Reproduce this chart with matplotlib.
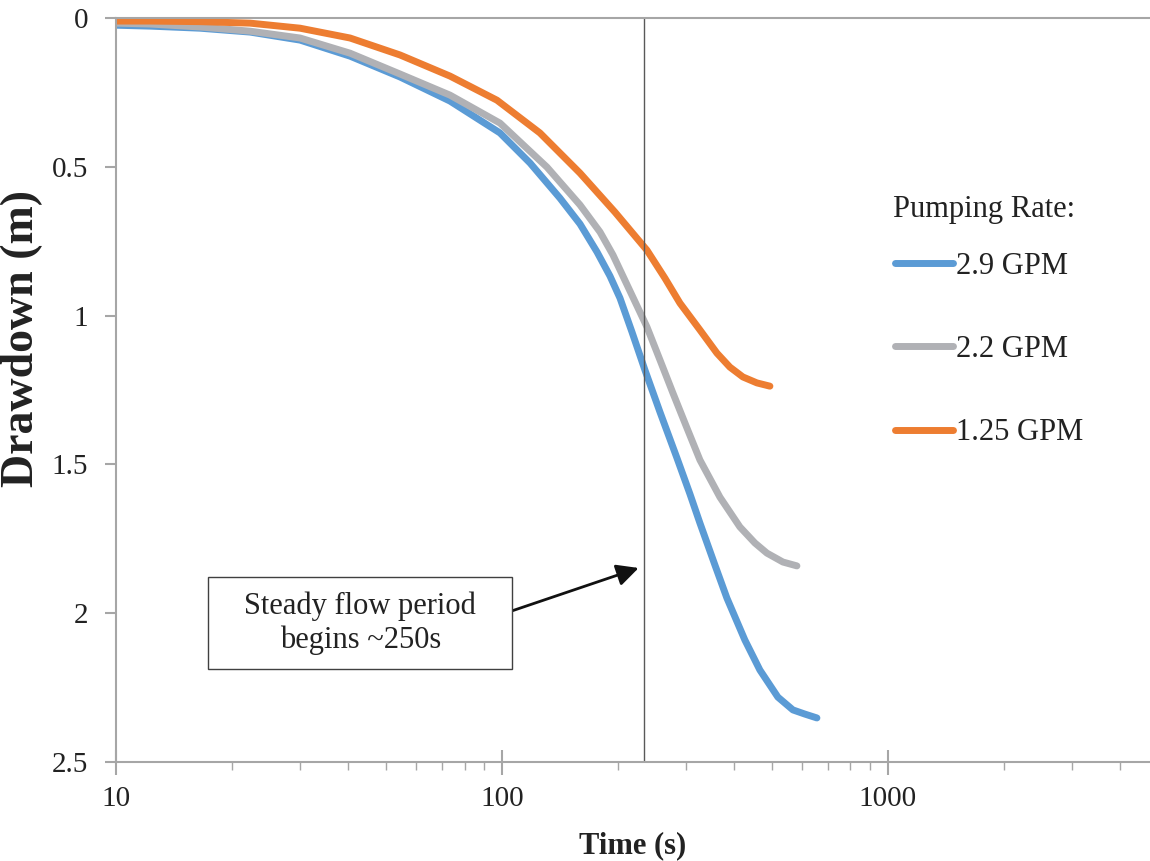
import matplotlib
matplotlib.use('Agg')
import matplotlib.pyplot as plt
from matplotlib.path import Path
from matplotlib.ticker import FixedLocator, LogLocator, NullFormatter

# data (time in s, drawdown in m)
t_29 = [10, 12.25, 16.5, 22.24, 29.97, 40.39, 54.42, 73.34, 98.81, 118.2, 141.3,
        159.3, 176.3, 190.5, 202.2, 217.2, 234.7, 256.7, 284.0, 306.9, 325.8,
        356.3, 382.7, 426.0, 466.0, 518.8, 567.5, 609.5, 654.9]
d_29 = [0.024, 0.027, 0.034, 0.047, 0.074, 0.128, 0.198, 0.279, 0.386, 0.487,
        0.605, 0.692, 0.786, 0.867, 0.941, 1.055, 1.183, 1.324, 1.478, 1.599,
        1.697, 1.838, 1.949, 2.090, 2.191, 2.282, 2.325, 2.339, 2.352]

t_22 = [10, 12.25, 16.5, 22.24, 29.97, 40.39, 54.42, 73.34, 98.81, 130.8, 159.3,
        179.5, 193.9, 214.6, 237.5, 256.7, 277.3, 301.6, 325.8, 367.1, 413.5,
        452.3, 485.9, 534.6, 581.2]
d_22 = [0.017, 0.020, 0.030, 0.044, 0.067, 0.118, 0.188, 0.259, 0.353, 0.501,
        0.628, 0.719, 0.796, 0.917, 1.038, 1.149, 1.260, 1.378, 1.485, 1.610,
        1.710, 1.764, 1.798, 1.828, 1.841]

t_125 = [10, 12.25, 16.5, 22.24, 29.97, 40.39, 54.42, 73.34, 97.05, 125.4, 159.3,
         196.2, 237.5, 264.4, 289.2, 325.8, 360.6, 389.6, 421.0, 457.7, 494.7]
d_125 = [0.010, 0.010, 0.012, 0.017, 0.034, 0.067, 0.124, 0.195, 0.276, 0.386,
         0.521, 0.652, 0.780, 0.874, 0.958, 1.048, 1.126, 1.173, 1.206, 1.226,
         1.237]

labels = ['2.9 GPM', '2.2 GPM', '1.25 GPM']
colors = ['#5B9BD5', '#B0B1B5', '#ED7D31']
steady_t = 234
y_ticks = [0, 0.5, 1, 1.5, 2, 2.5]
y_ticklabels = ['0', '0.5', '1', '1.5', '2', '2.5']

plt.rcParams['font.family'] = ['Liberation Serif', 'DejaVu Serif']
TXT = '#222222'
AXC = '#A6A6A6'


def wide_box(x0, y0, width, height, mutation_size):
    # rectangle with more padding left/right than top/bottom
    px, py = 1.18 * mutation_size, 0.47 * mutation_size
    return Path([(x0 - px, y0 - py), (x0 + width + px, y0 - py),
                 (x0 + width + px, y0 + height + py), (x0 - px, y0 + height + py),
                 (x0 - px, y0 - py)], closed=True)


fig = plt.figure(figsize=(11.5, 8.61), dpi=100)
ax = fig.add_axes([0.101, 0.115, 0.899, 0.864])

for t, d, lab, c in zip([t_29, t_22, t_125], [d_29, d_22, d_125], labels, colors):
    ax.plot(t, d, color=c, lw=5, label=lab, solid_capstyle='round',
            solid_joinstyle='round')

ax.axvline(steady_t, color='#595959', lw=1)

ax.set_xscale('log')
ax.set_xlim(10, 4780)
ax.set_ylim(2.5, 0)

ax.xaxis.set_major_locator(FixedLocator([10, 100, 1000]))
ax.set_xticklabels(['10', '100', '1000'])
ax.xaxis.set_minor_locator(LogLocator(base=10, subs=range(2, 10)))
ax.xaxis.set_minor_formatter(NullFormatter())
ax.set_yticks(y_ticks)
ax.set_yticklabels(y_ticklabels)

for side in ['left', 'top', 'bottom']:
    ax.spines[side].set_color(AXC)
    ax.spines[side].set_linewidth(1.5)
ax.spines['right'].set_visible(False)

ax.tick_params(axis='x', which='major', direction='inout', length=18, width=1.5,
               color=AXC, labelcolor=TXT, labelsize=21, pad=8)
ax.tick_params(axis='x', which='minor', direction='out', length=6, width=1,
               color=AXC)
ax.tick_params(axis='y', direction='out', length=8, width=1.5, color=AXC,
               labelcolor=TXT, labelsize=21, pad=12)

ax.set_xlabel('Time (s)', fontsize=22, fontweight='bold', color=TXT, labelpad=14)
ax.set_ylabel('Drawdown (m)', fontsize=33, fontweight='bold', color=TXT)
ax.yaxis.set_label_coords(-0.091, 0.569)
ax.yaxis.label.set_verticalalignment('center')

ax.annotate('Steady flow period\nbegins ~250s', xy=(226, 1.848), xytext=(42.9, 2.033),
            ha='center', va='center', fontsize=22, color=TXT,
            bbox=dict(boxstyle=wide_box, fc='white', ec='#404040', lw=1),
            arrowprops=dict(arrowstyle='-|>,head_length=0.6,head_width=0.3',
                            color='#111111', lw=2, shrinkA=0, shrinkB=0,
                            relpos=(1.0, 0.5)))

fig.text(893 / 1150, 1 - 210 / 861, 'Pumping Rate:', fontsize=22, color=TXT,
         ha='left', va='center')
leg = ax.legend(loc='upper left', bbox_to_anchor=(0.765, 0.725),
                bbox_transform=fig.transFigure, frameon=False, fontsize=22,
                handlelength=1.9, handletextpad=0.1, labelspacing=1.77,
                borderpad=0)
for txt in leg.get_texts():
    txt.set_color(TXT)
for line in leg.get_lines():
    line.set_linewidth(5)
    line.set_solid_capstyle('round')

fig.savefig('out.png', dpi=100)
